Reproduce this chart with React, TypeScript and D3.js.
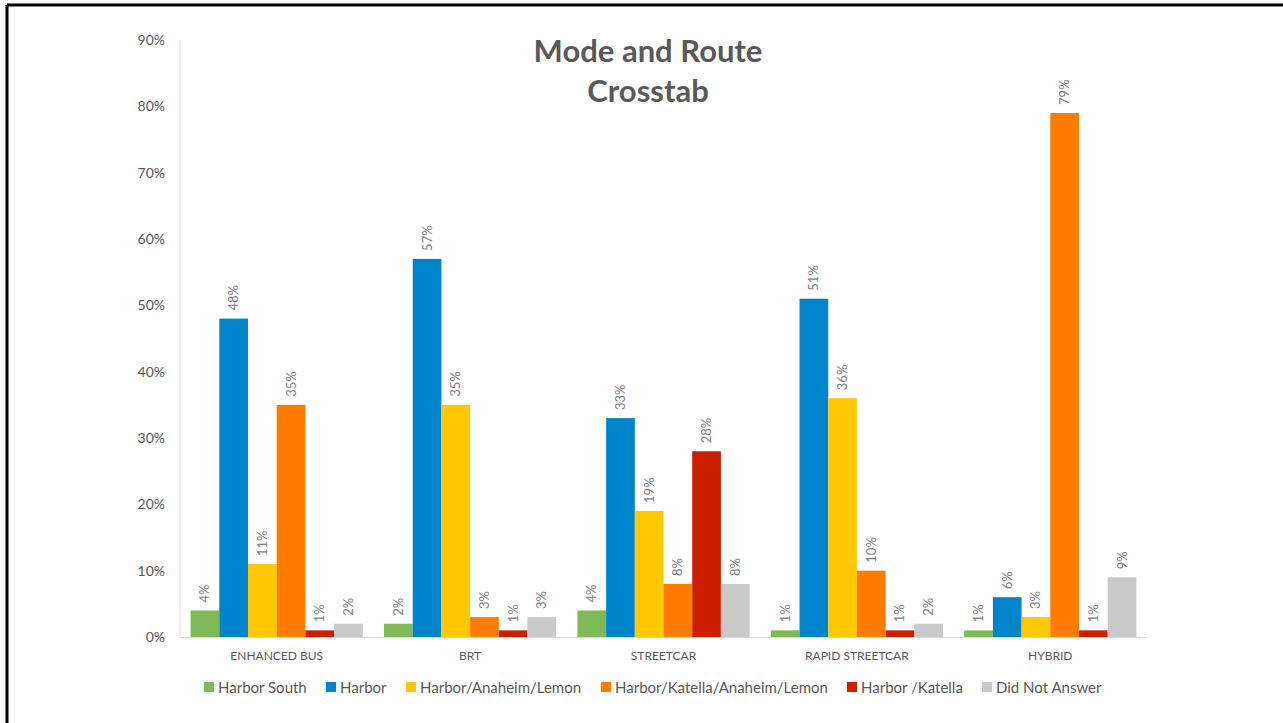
import React from "react";
import * as d3 from "d3";

const categories = ["ENHANCED BUS", "BRT", "STREETCAR", "RAPID STREETCAR", "HYBRID"];
const seriesNames = ["Harbor South", "Harbor", "Harbor/Anaheim/Lemon", "Harbor/Katella/Anaheim/Lemon", "Harbor /Katella", "Did Not Answer"];
const seriesColors = ["#80BA57", "#0084CC", "#FFC800", "#FF7C00", "#CC1F00", "#C9C9C9"];
const harborSouth = [4, 2, 4, 1, 1];
const harbor = [48, 57, 33, 51, 6];
const harborAnaheimLemon = [11, 35, 19, 36, 3];
const harborKatellaAnaheimLemon = [35, 3, 8, 10, 79];
const harborKatella = [1, 1, 28, 1, 1];
const didNotAnswer = [2, 3, 8, 2, 9];
const seriesValues = [harborSouth, harbor, harborAnaheimLemon, harborKatellaAnaheimLemon, harborKatella, didNotAnswer];
const yTicks = [0, 10, 20, 30, 40, 50, 60, 70, 80, 90];
const legendX = [204, 326, 406, 601, 847, 982];

const W = 1283, H = 723;
const left = 180, right = 1147, top = 40, bottom = 637;
const font = "Lato, 'Open Sans', sans-serif";

export default function App() {
  const x0 = d3.scaleBand<string>().domain(categories).range([left, right]).paddingInner(0).paddingOuter(0);
  const x1 = d3.scaleBand<string>().domain(seriesNames).range([0, x0.bandwidth()]).paddingOuter(0.37).paddingInner(0);
  const y = d3.scaleLinear().domain([0, 90]).range([bottom, top]);

  return (
    <svg width={W} height={H} style={{ position: "absolute", left: 0, top: 0, background: "#fff" }} fontFamily={font}>
      <rect x={0} y={0} width={W} height={H} fill="#fff" />
      <line x1={7} y1={5} x2={W} y2={5} stroke="#000" strokeWidth={3} />
      <line x1={7} y1={5} x2={7} y2={H} stroke="#000" strokeWidth={3} />
      <text x={648} y={62} textAnchor="middle" fontSize={31} fontWeight="bold" fill="#595959">Mode and Route</text>
      <text x={648} y={102} textAnchor="middle" fontSize={31} fontWeight="bold" fill="#595959">Crosstab</text>
      {yTicks.map(t => (
        <text key={t} x={165} y={y(t) + 5} textAnchor="end" fontSize={14} fill="#595959">{t}%</text>
      ))}
      {categories.map((c, ci) => (
        <g key={c}>
          {seriesNames.map((s, si) => {
            const v = seriesValues[si][ci];
            const bx = (x0(c) as number) + (x1(s) as number);
            const bw = x1.bandwidth();
            const cx = bx + bw / 2;
            const ty = y(v) - 8;
            return (
              <g key={s}>
                <rect x={bx} y={y(v)} width={bw} height={bottom - y(v)} fill={seriesColors[si]} />
                <text transform={`translate(${cx + 4.5},${ty}) rotate(-90)`} fontSize={13} fill="#808080">{v}%</text>
              </g>
            );
          })}
          <text x={(x0(c) as number) + x0.bandwidth() / 2} y={660} textAnchor="middle" fontSize={12} fill="#595959">{c}</text>
        </g>
      ))}
      <line x1={left} y1={top} x2={left} y2={bottom} stroke="#D9D9D9" strokeWidth={1} />
      <line x1={left} y1={bottom + 0.5} x2={right} y2={bottom + 0.5} stroke="#D9D9D9" strokeWidth={1} />
      {seriesNames.map((s, i) => (
        <g key={s}>
          <rect x={legendX[i]} y={682} width={10} height={10} fill={seriesColors[i]} />
          <text x={legendX[i] + 14} y={693} fontSize={15} fill="#595959">{s}</text>
        </g>
      ))}
    </svg>
  );
}
